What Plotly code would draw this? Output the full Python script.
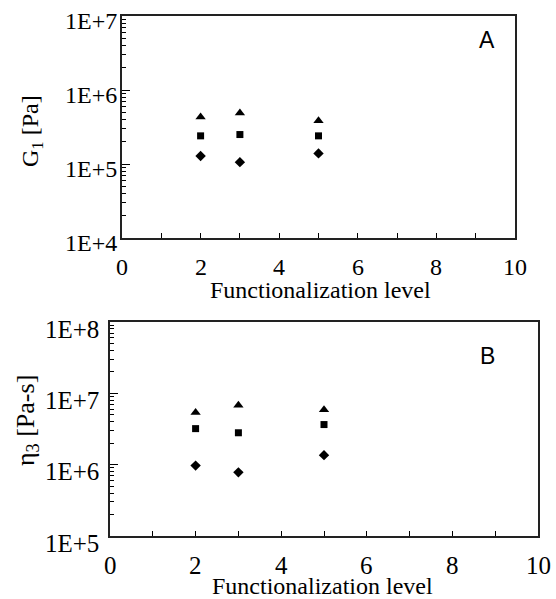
import math
import plotly.graph_objects as go

W, H = 556, 599

# Data
levels = [2, 3, 5]
g1_triangle = [4.3e5, 4.9e5, 3.85e5]
g1_square = [2.4e5, 2.5e5, 2.4e5]
g1_diamond = [1.28e5, 1.06e5, 1.39e5]

eta_triangle = [5.4e6, 6.8e6, 5.9e6]
eta_square = [3.2e6, 2.8e6, 3.65e6]
eta_diamond = [9.7e5, 7.8e5, 1.36e6]

x_ticks = [0, 2, 4, 6, 8, 10]
x_labels = ["0", "2", "4", "6", "8", "10"]
y1_ticks = [1e4, 1e5, 1e6, 1e7]
y1_labels = ["1E+4", "1E+5", "1E+6", "1E+7"]
y2_ticks = [1e5, 1e6, 1e7, 1e8]
y2_labels = ["1E+5", "1E+6", "1E+7", "1E+8"]


def px_x(p):
    return p / W


def px_y(p):
    return 1 - p / H


fig = go.Figure()

symbols = [("triangle-up", 9), ("square", 7), ("diamond", 8)]
for vals, (sym, sz) in zip([g1_triangle, g1_square, g1_diamond], symbols):
    fig.add_trace(go.Scatter(x=levels, y=vals, mode="markers", xaxis="x", yaxis="y",
                             marker=dict(symbol=sym, size=sz, color="black"), showlegend=False))
for vals, (sym, sz) in zip([eta_triangle, eta_square, eta_diamond], symbols):
    fig.add_trace(go.Scatter(x=levels, y=vals, mode="markers", xaxis="x2", yaxis="y2",
                             marker=dict(symbol=sym, size=sz, color="black"), showlegend=False))

serif = "Liberation Serif"
minor_y1 = [m * 10 ** e for e in range(4, 7) for m in range(2, 10)]
minor_y2 = [m * 10 ** e for e in range(5, 8) for m in range(2, 10)]

common_x = dict(range=[0, 10], tickvals=x_ticks, ticks="inside", ticklen=5, tickcolor="black",
                showticklabels=False,
                showline=True, linecolor="#222", linewidth=1.5, mirror=True, showgrid=False,
                zeroline=False, minor=dict(tickvals=[1, 3, 5, 7, 9], ticks="inside", ticklen=5,
                                           tickcolor="black"))
common_y = dict(type="log", ticks="inside", ticklen=8, tickcolor="black", showticklabels=False,
                showline=True, linecolor="#222", linewidth=1.5, mirror=True, showgrid=False,
                zeroline=False)

top_l, top_r, top_t, top_b = 122, 515, 16, 238
bot_l, bot_r, bot_t, bot_b = 110, 538, 322, 536

fig.update_layout(
    width=W, height=H, margin=dict(l=0, r=0, t=0, b=0, autoexpand=False),
    plot_bgcolor="white", paper_bgcolor="white",
    xaxis=dict(domain=[px_x(top_l), px_x(top_r)], anchor="y", **common_x),
    yaxis=dict(domain=[px_y(top_b), px_y(top_t)], anchor="x", range=[4, 7],
               tickvals=y1_ticks,
               minor=dict(tickvals=minor_y1, ticks="inside", ticklen=4, tickcolor="black"),
               **common_y),
    xaxis2=dict(domain=[px_x(bot_l), px_x(bot_r)], anchor="y2", **common_x),
    yaxis2=dict(domain=[px_y(bot_b), px_y(bot_t)], anchor="x2", range=[5, 8],
                tickvals=y2_ticks,
                minor=dict(tickvals=minor_y2, ticks="inside", ticklen=4, tickcolor="black"),
                **common_y),
)


def add_text(text, x, y, size, family=serif, angle=0, xref="paper", yref="paper",
             xanchor="center", yanchor="middle", xshift=0, yshift=0):
    fig.add_annotation(text=text, x=x, y=y, xref=xref, yref=yref, showarrow=False,
                       textangle=angle, xanchor=xanchor, yanchor=yanchor,
                       xshift=xshift, yshift=yshift,
                       font=dict(family=family, size=size, color="black"))


# Tick labels (top panel)
for v, lab in zip(x_ticks, x_labels):
    add_text(lab, v, px_y(267), 24, xref="x")
for v, lab in zip(y1_ticks, y1_labels):
    add_text(lab, px_x(top_l - 3), math.log10(v), 24, yref="y", xanchor="right", yshift=-5)

# Tick labels (bottom panel)
for v, lab in zip(x_ticks, x_labels):
    add_text(lab, v, px_y(565), 25, xref="x2")
for v, lab in zip(y2_ticks, y2_labels):
    add_text(lab, px_x(bot_l - 9), math.log10(v), 25, yref="y2", xanchor="right", yshift=-7)

# Axis titles and panel letters
add_text("Functionalization level", px_x(320), px_y(290), 24)
add_text("Functionalization level", px_x(322), px_y(586), 24)
add_text("G<sub>1</sub> [Pa]", px_x(32), px_y(131), 24, angle=-90)
add_text("η<sub>3</sub> [Pa-s]", px_x(27), px_y(421), 26, angle=-90)
add_text("A", px_x(487), px_y(40), 23, family="Liberation Sans")
add_text("B", px_x(487), px_y(356), 23, family="Liberation Sans")

fig.write_html("out.html")
